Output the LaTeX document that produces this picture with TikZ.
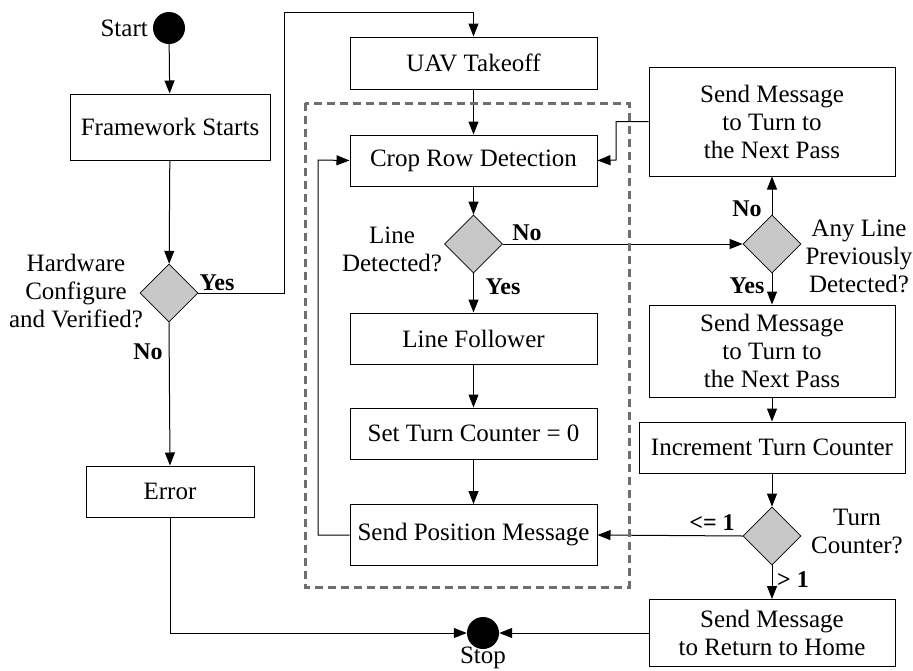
\documentclass[tikz,border=0pt]{standalone}
\usepackage{fontspec}
\setmainfont{Liberation Serif}
\usetikzlibrary{arrows.meta,shapes.geometric}
\definecolor{dfill}{HTML}{C8C8C8}
\definecolor{dashgray}{HTML}{6E6E6E}
\begin{document}
\begin{tikzpicture}[x=1pt,y=-1pt,
  txt/.style={font=\fontsize{25}{28}\selectfont},
  box/.style={draw, line width=1pt, inner sep=0pt, align=center, txt},
  dec/.style={diamond, draw, fill=dfill, line width=0.8pt, inner sep=0pt,
              minimum width=58pt, minimum height=58pt},
  dot/.style={circle, fill=black, minimum size=32pt, inner sep=0pt},
  lbl/.style={txt, align=center, inner sep=0pt},
  yn/.style={font=\fontsize{24}{26}\selectfont\bfseries, inner sep=0pt},
  conn/.style={line width=1pt},
  arr/.style={conn, -{Triangle[length=13pt,width=10pt]}}
]
\useasboundingbox (0,0) rectangle (913,670);

% terminals
\node[dot] (start) at (169,28) {};
\node[lbl, anchor=east] (startlbl) at (148,28) {Start};
\node[dot] (stop) at (483,633) {};
\node[lbl] (stoplbl) at (483,658) {Stop};

% left column
\node[box, minimum width=200pt, minimum height=66pt] (fw) at (170,127) {Framework Starts};
\node[dec] (d1) at (169,293) {};
\node[lbl] (d1lbl) at (76,291) {Hardware\\Configure\\and Verified?};
\node[box, minimum width=168pt, minimum height=51pt] (err) at (170,491.5) {Error};

% middle column
\node[box, minimum width=247pt, minimum height=52pt] (uav) at (473.5,63) {UAV Takeoff};
\node[box, minimum width=247pt, minimum height=51pt] (crop) at (473.5,160.5) {Crop Row Detection};
\node[dec] (d2) at (473.5,244) {};
\node[lbl] (d2lbl) at (392,249) {Line\\Detected?};
\node[box, minimum width=247pt, minimum height=51pt] (lf) at (473.5,338.5) {Line Follower};
\node[box, minimum width=247pt, minimum height=51pt] (stc) at (473.5,433.5) {Set Turn Counter = 0};
\node[box, minimum width=247pt, minimum height=61pt] (spm) at (473.5,535) {Send Position Message};

% right column
\node[box, minimum width=246pt, minimum height=109pt] (sm1) at (772,121.5) {Send Message\\to Turn to\\the Next Pass};
\node[dec] (d4) at (772,244) {};
\node[lbl] (d4lbl) at (859,256) {Any Line\\Previously\\Detected?};
\node[box, minimum width=246pt, minimum height=92pt] (sm2) at (772,351) {Send Message\\to Turn to\\the Next Pass};
\node[box, minimum width=266pt, minimum height=51pt] (inc) at (772,447.5) {Increment Turn Counter};
\node[dec] (d5) at (772,536) {};
\node[lbl] (d5lbl) at (857,531.5) {Turn\\Counter?};
\node[box, minimum width=246pt, minimum height=67pt] (ret) at (772,633) {Send Message\\to Return to Home};

% branch labels
\node[yn] (y1) at (217,283) {Yes};
\node[yn] (n1) at (148,352) {No};
\node[yn] (n2) at (527,233) {No};
\node[yn] (y2) at (503,287) {Yes};
\node[yn] (n4) at (747,209) {No};
\node[yn] (y4) at (747,286) {Yes};
\node[yn] (le1) at (712,523) {<= 1};
\node[yn] (gt1) at (793,580) {> 1};

% routing points
\coordinate (yesup) at (284,12);
\coordinate (loopx) at (318,160);
\coordinate (backx) at (616,160);

% connectors
\draw[arr] (start) -- (fw);
\draw[arr] (fw) -- (d1);
\draw[arr] (d1.east) -| (yesup) -| (uav.north);
\draw[arr] (d1.south) -- (err.north);
\draw[arr] (err.south) |- (stop.west);
\draw[arr] (ret.west) -- (stop.east);
\draw[arr] (uav) -- (crop);
\draw[arr] (crop) -- (d2);
\draw[arr] (d2.south) -- (lf.north);
\draw[arr] (d2.east) -- (d4.west);
\draw[arr] (lf) -- (stc);
\draw[arr] (stc) -- (spm);
\draw[arr] (spm.west) -| (loopx) -- (crop.west);
\draw[arr] (sm1.west) -| (backx) -- (crop.east);
\draw[arr] (d4.north) -- (sm1.south);
\draw[arr] (d4.south) -- (sm2.north);
\draw[arr] (sm2) -- (inc);
\draw[arr] (inc) -- (d5.north);
\draw[arr] (d5.west) -- (spm.east);
\draw[arr] (d5.south) -- (ret.north);

% repeated-pass region
\draw[dashgray, line width=3pt, dash pattern=on 8pt off 5pt] (305,103) rectangle (629,587);
\end{tikzpicture}
\end{document}
